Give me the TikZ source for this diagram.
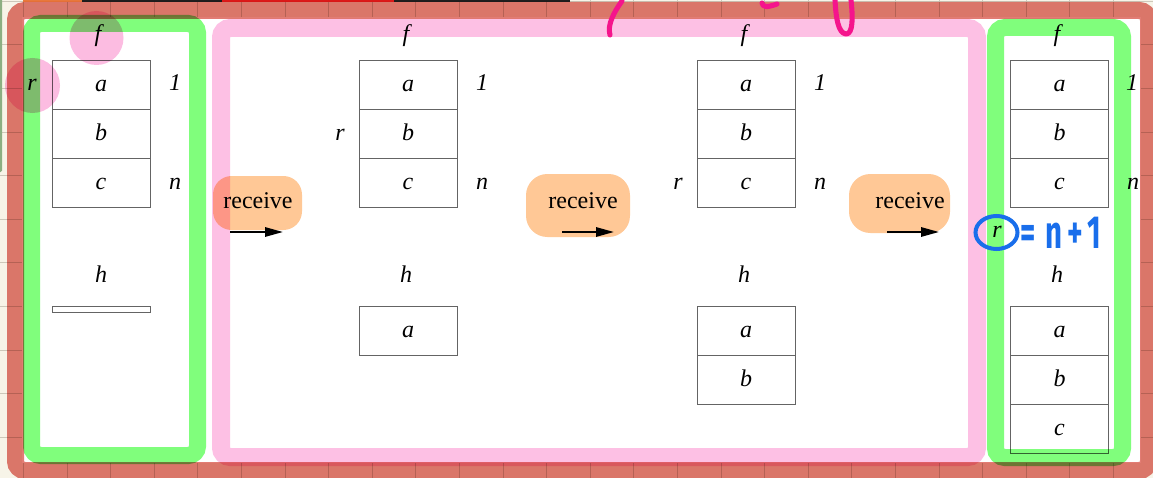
\documentclass[tikz,border=0pt]{standalone}
\usepackage{fontspec}
\setmainfont{Liberation Serif}
\setsansfont{Fira Sans}
\usetikzlibrary{arrows.meta}
\definecolor{cream}{RGB}{247,244,232}
\definecolor{gridc}{RGB}{205,200,186}
\definecolor{boxgray}{RGB}{100,100,100}
\definecolor{redmk}{RGB}{226,124,116}
\definecolor{greenmk}{RGB}{128,254,124}
\definecolor{pinkmk}{RGB}{253,192,228}
\definecolor{orangemk}{RGB}{255,200,150}
\definecolor{circmk}{RGB}{252,188,225}
\definecolor{magmk}{RGB}{245,20,140}
\definecolor{bluemk}{RGB}{25,110,235}
\definecolor{slv}{RGB}{140,175,130}
\definecolor{stora}{RGB}{232,120,60}
\definecolor{stred}{RGB}{220,25,25}
\definecolor{stblk}{RGB}{30,30,30}
\tikzset{
  gridline/.style={draw=gridc, line width=0.75pt},
  cell/.style={draw=boxgray, line width=0.7pt, minimum width=73.5pt, minimum height=36.75pt,
    inner sep=0pt, text height=11pt, text depth=1.2pt, font=\itshape\fontsize{18}{20}\selectfont},
  thinbar/.style={draw=boxgray, line width=0.7pt, minimum width=73.5pt, minimum height=4.5pt, inner sep=0pt},
  lbl/.style={anchor=base, inner sep=0pt, font=\itshape\fontsize{18}{20}\selectfont},
  rcv/.style={anchor=base, inner sep=0pt, font=\fontsize{18}{20}\selectfont},
  arr/.style={line width=1.5pt, -{Triangle[length=13.5pt,width=7pt]}},
  frame/.style={line width=12.75pt, rounded corners=7pt},
  magstroke/.style={draw=magmk, line width=3.8pt, line cap=round, line join=round},
}
\begin{document}
\begin{tikzpicture}[x=0.75pt,y=-0.75pt]
\useasboundingbox (0,0) rectangle (1153,478);
% note paper background with grid
\fill[cream] (0,0) rectangle (1153,478);
\foreach \i in {-1,...,26} { \draw[gridline] ({23.4+43.6*\i},0) -- ++(0,478); }
\foreach \j in {0,...,11} { \draw[gridline] (0,{1.2+43.6*\j}) -- ++(1153,0); }
% thin strips at the top edge and left edge
\fill[stora] (23,0) rectangle (82,2.5);
\fill[stblk] (82,0) rectangle (222,2.5);
\fill[stred] (222,0) rectangle (394,2.5);
\fill[stblk] (394,0) rectangle (570,2.5);
\fill[slv, rounded corners=1pt] (-3,-5) rectangle (2,172);
% pasted white page
\fill[white] (22,17) rectangle (1141,463);

% ---------- column 1 ----------
\node[lbl] (f1) at (98,42) {f};
\node[cell] (a1) at (101,84.5) {a};
\node[cell] (b1) at (101,133.5) {b};
\node[cell] (c1) at (101,182.5) {c};
\node[lbl] (r1) at (32,91) {r};
\node[lbl] (one1) at (175,91) {1};
\node[lbl] (n1) at (175,189) {n};
\node[lbl] (h1) at (101,282) {h};
\node[thinbar] (bar1) at (101,309.5) {};

% ---------- column 2 ----------
\node[lbl] (f2) at (406,42) {f};
\node[cell] (a2) at (408,84.5) {a};
\node[cell] (b2) at (408,133.5) {b};
\node[cell] (c2) at (408,182.5) {c};
\node[lbl] (one2) at (482,91) {1};
\node[lbl] (r2) at (340,140) {r};
\node[lbl] (n2) at (482,189) {n};
\node[lbl] (h2) at (406,282) {h};
\node[cell] (ha2) at (408,330.5) {a};

% ---------- column 3 ----------
\node[lbl] (f3) at (744,42) {f};
\node[cell] (a3) at (746,84.5) {a};
\node[cell] (b3) at (746,133.5) {b};
\node[cell] (c3) at (746,182.5) {c};
\node[lbl] (one3) at (820,91) {1};
\node[lbl] (r3) at (678,189) {r};
\node[lbl] (n3) at (820,189) {n};
\node[lbl] (h3) at (744,282) {h};
\node[cell] (ha3) at (746,330.5) {a};
\node[cell] (hb3) at (746,379.5) {b};

% ---------- column 4 ----------
\node[lbl] (f4) at (1057,42) {f};
\node[cell] (a4) at (1059.5,84.5) {a};
\node[cell] (b4) at (1059.5,133.5) {b};
\node[cell] (c4) at (1059.5,182.5) {c};
\node[lbl] (one4) at (1132,91) {1};
\node[lbl] (n4) at (1133,189) {n};
\node[lbl] (r4) at (997,237.5) {r};
\node[lbl] (h4) at (1057,282) {h};
\node[cell] (ha4) at (1059.5,330.5) {a};
\node[cell] (hb4) at (1059.5,379.5) {b};
\node[cell] (hc4) at (1059.5,428.5) {c};

% ---------- receive steps ----------
\node[rcv] (rc1) at (258,208) {receive};
\node[rcv] (rc2) at (583,208) {receive};
\node[rcv] (rc3) at (910,208) {receive};
\coordinate (s1) at (230,232); \coordinate (e1) at (283,232);
\coordinate (s2) at (562,232); \coordinate (e2) at (614,232);
\coordinate (s3) at (887,232); \coordinate (e3) at (939,232);
\draw[arr] (s1) -- (e1);
\draw[arr] (s2) -- (e2);
\draw[arr] (s3) -- (e3);

% ---------- highlighter marks ----------
\begin{scope}[blend mode=multiply]
  \draw[frame, draw=redmk] (15.5,10.5) rectangle (1148.5,470.5);
  \draw[frame, draw=greenmk] (31.5,23.5) rectangle (197.5,455.5);
  \draw[frame, draw=pinkmk, line width=13.5pt] (221,28) rectangle (977,457);
  \draw[frame, draw=greenmk] (995.5,27.5) rectangle (1122.5,457.5);
  \fill[circmk] (96.5,38) circle [radius=27];
  \fill[circmk] (32.5,85.5) circle [radius=27.5];
  \fill[orangemk, rounded corners=14pt] (213,176) rectangle (302,230);
  \fill[orangemk, rounded corners=16pt] (526,174) rectangle (630,237);
  \fill[orangemk, rounded corners=16pt] (849,174) rectangle (950,233);
\end{scope}

% ---------- pen annotations ----------
\draw[magstroke] (622,1) .. controls (614,12) and (607,25) .. (610,35);
\draw[magstroke] (762,3) .. controls (763,7) and (766,8) .. (777,4);
\draw[magstroke] (835,0) .. controls (836,18) and (838,33) .. (846,34) .. controls (853,34) and (853,18) .. (851,0);
\draw[draw=bluemk, line width=3pt] (996.5,232.5) ellipse [x radius=21, y radius=16.5];
\node[anchor=base west, inner sep=0pt, text=bluemk, font=\sffamily\bfseries\fontsize{24}{26}\selectfont] (eqn) at (1020,248)
  {\scalebox{0.92}[1.45]{=\,\,n\,+\,1}};
\end{tikzpicture}
\end{document}
